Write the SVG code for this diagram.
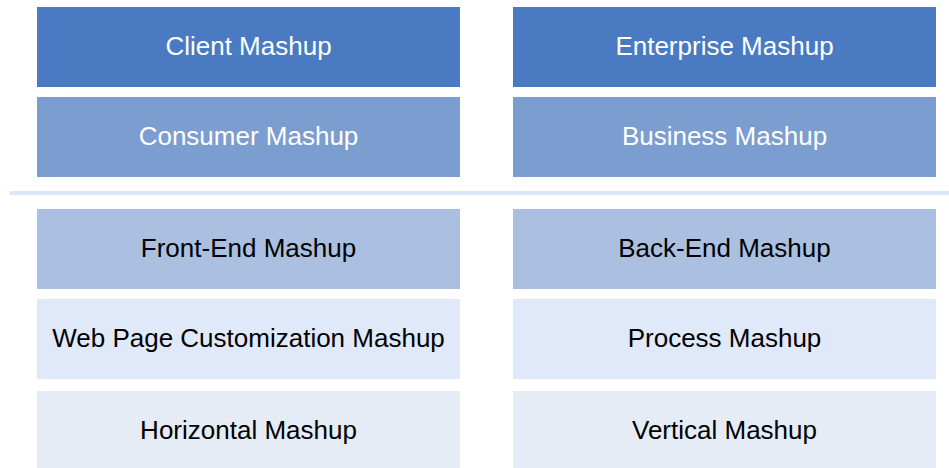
<svg xmlns="http://www.w3.org/2000/svg" width="949" height="468" viewBox="0 0 949 468">
  <style>
    .lbl { font-family: "Liberation Sans", Arial, sans-serif; font-size: 26px; text-anchor: middle; dominant-baseline: central; }
    .light { fill: #ffffff; }
    .dark { fill: #000000; }
    .r1 { fill: #4A7AC1; }
    .r2 { fill: #7C9DCF; }
    .r3 { fill: #ABC0E1; }
    .r4 { fill: #E0E9FA; }
    .r5 { fill: #E5ECF6; }
  </style>
  <rect width="949" height="468" fill="#ffffff"/>

  <!-- upper categories -->
  <g id="client-mashup"><rect class="r1" x="37" y="7" width="423" height="80"/><text class="lbl light" x="248.5" y="46">Client Mashup</text></g>
  <g id="enterprise-mashup"><rect class="r1" x="513" y="7" width="423" height="80"/><text class="lbl light" x="724.5" y="46">Enterprise Mashup</text></g>
  <g id="consumer-mashup"><rect class="r2" x="37" y="97" width="423" height="80"/><text class="lbl light" x="248.5" y="136">Consumer Mashup</text></g>
  <g id="business-mashup"><rect class="r2" x="513" y="97" width="423" height="80"/><text class="lbl light" x="724.5" y="136">Business Mashup</text></g>

  <!-- divider -->
  <g id="connectors">
    <line x1="11" y1="193" x2="949" y2="193" stroke="#DCE6FA" stroke-width="4" stroke-linecap="round"/>
  </g>

  <!-- lower categories -->
  <g id="front-end-mashup"><rect class="r3" x="37" y="209" width="423" height="80"/><text class="lbl dark" x="248.5" y="248">Front-End Mashup</text></g>
  <g id="back-end-mashup"><rect class="r3" x="513" y="209" width="423" height="80"/><text class="lbl dark" x="724.5" y="248">Back-End Mashup</text></g>
  <g id="web-page-customization-mashup"><rect class="r4" x="37" y="299" width="423" height="80"/><text class="lbl dark" x="248.5" y="338">Web Page Customization Mashup</text></g>
  <g id="process-mashup"><rect class="r4" x="513" y="299" width="423" height="80"/><text class="lbl dark" x="724.5" y="338">Process Mashup</text></g>
  <g id="horizontal-mashup"><rect class="r5" x="37" y="391" width="423" height="80"/><text class="lbl dark" x="248.5" y="430">Horizontal Mashup</text></g>
  <g id="vertical-mashup"><rect class="r5" x="513" y="391" width="423" height="80"/><text class="lbl dark" x="724.5" y="430">Vertical Mashup</text></g>
</svg>
